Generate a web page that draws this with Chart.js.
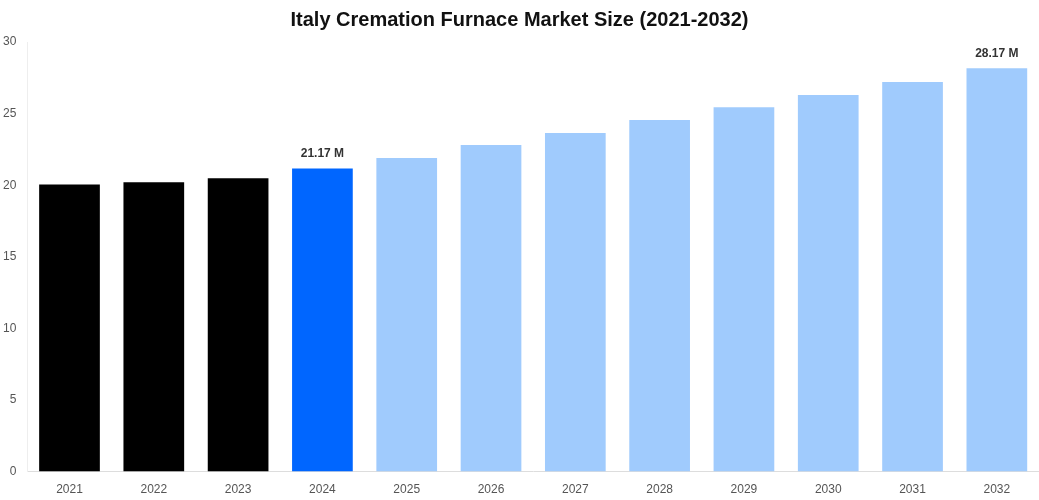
<!DOCTYPE html>
<html><head><meta charset="utf-8">
<script src="https://cdn.jsdelivr.net/npm/chart.js@4"></script>
<style>html,body{margin:0;padding:0;background:#fff}#wrap{width:1039px;height:500px}</style>
</head><body><div id="wrap"><canvas id="c"></canvas></div>
<script>
var years = ['2021','2022','2023','2024','2025','2026','2027','2028','2029','2030','2031','2032'];
var sizes = [20.05, 20.2, 20.48, 21.17, 21.9, 22.8, 23.65, 24.55, 25.45, 26.3, 27.2, 28.17];
var barColors = ['#000000','#000000','#000000','#0066ff','#a0cbfd','#a0cbfd','#a0cbfd','#a0cbfd','#a0cbfd','#a0cbfd','#a0cbfd','#a0cbfd'];
var labelled = ['2024','2032'];

// Wertbeschriftung nur über ausgewählten Balken
var valueLabels = {
  id: 'valueLabels',
  afterDatasetsDraw: function (chart) {
    var ctx = chart.ctx, meta = chart.getDatasetMeta(0);
    ctx.save();
    ctx.font = 'bold 12px "Liberation Sans", Arial, sans-serif';
    ctx.fillStyle = '#333';
    ctx.textAlign = 'center';
    ctx.textBaseline = 'bottom';
    meta.data.forEach(function (bar, i) {
      if (labelled.indexOf(years[i]) < 0) return;
      ctx.fillText(sizes[i].toFixed(2) + ' M', bar.x, bar.y - 9);
    });
    ctx.restore();
  }
};

new Chart(document.getElementById('c').getContext('2d'), {
  type: 'bar',
  data: { labels: years, datasets: [{ data: sizes, backgroundColor: barColors, barPercentage: 0.72, categoryPercentage: 1 }] },
  options: {
    responsive: true, maintainAspectRatio: false, animation: false,
    layout: { padding: { left: 0, right: 0, top: 0, bottom: 0 } },
    plugins: {
      legend: { display: false }, tooltip: { enabled: false },
      title: { display: true, text: 'Italy Cremation Furnace Market Size (2021-2032)', color: '#111',
        font: { size: 20, weight: 'bold', family: '"Liberation Sans", Arial, sans-serif' }, padding: { top: 8, bottom: 10 } }
    },
    scales: {
      x: { grid: { display: false }, border: { color: '#ddd' },
        ticks: { color: '#555', font: { size: 12, family: '"Liberation Sans", Arial, sans-serif' } } },
      y: { min: 0, max: 30, grid: { display: false }, border: { color: '#eee' },
        ticks: { stepSize: 5, color: '#555', font: { size: 12, family: '"Liberation Sans", Arial, sans-serif' } } }
    }
  },
  plugins: [valueLabels]
});
</script></body></html>
